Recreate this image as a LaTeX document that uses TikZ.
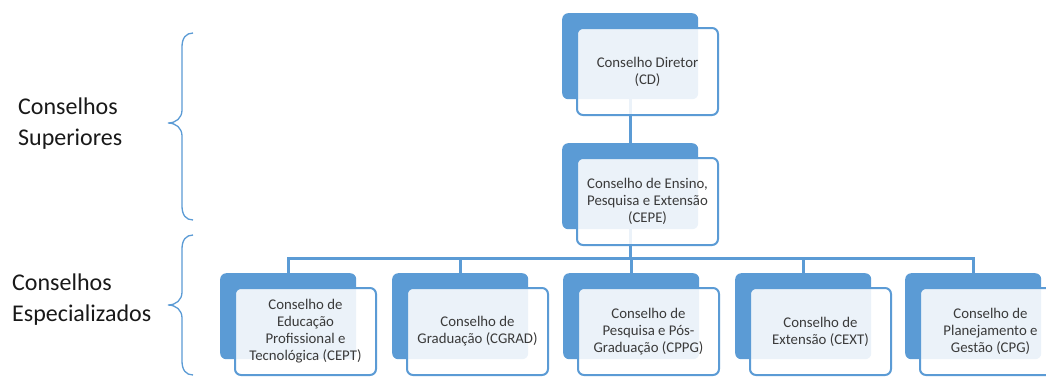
\documentclass[tikz,border=0pt]{standalone}
\usepackage{fontspec}
\setmainfont{Carlito}
\usetikzlibrary{backgrounds}
\definecolor{cblue}{HTML}{5B9BD5}
\definecolor{ctext}{HTML}{3A3A3A}
\tikzset{
  backbox/.style={rectangle, rounded corners=6pt, fill=cblue, minimum width=136pt, minimum height=86pt, inner sep=0pt, anchor=north west},
  frontbox/.style={rectangle, rounded corners=6pt, draw=cblue, line width=2pt, fill=white, fill opacity=0.88, text opacity=1, text=ctext, minimum width=141pt, minimum height=87pt, inner sep=2pt, anchor=north west, align=center, font=\fontsize{14.8}{17}\selectfont},
  conn/.style={draw=cblue, line width=3pt},
  bracestyle/.style={draw=cblue, line width=1.3pt},
  sidelabel/.style={anchor=west, align=left, inner sep=0pt, text=black!90, font=\fontsize{24}{31}\selectfont}
}
\newcommand{\council}[4]{%
  \node[backbox] (#1-b) at (#2,#3) {};
  \node[frontbox] (#1-f) at (#2+14,#3+14) {#4};
}
\begin{document}
\begin{tikzpicture}[x=1pt,y=-1pt]
\useasboundingbox (0,0) rectangle (1046,376);
\council{cd}{562}{13}{Conselho Diretor\\(CD)}
\council{cepe}{562}{143}{Conselho de Ensino,\\Pesquisa e Extensão\\(CEPE)}
\council{cept}{220}{273}{Conselho de\\Educação\\Profissional e\\Tecnológica (CEPT)}
\council{cgrad}{392}{273}{Conselho de\\Graduação (CGRAD)}
\council{cppg}{563}{273}{Conselho de\\Pesquisa e Pós-\\Graduação (CPPG)}
\council{cext}{735}{273}{Conselho de\\Extensão (CEXT)}
\council{cpg}{905}{273}{Conselho de\\Planejamento e\\Gestão (CPG)}
\coordinate (bar) at (0,258);
\begin{pgfonlayer}{background}
\fill[white] (0,0) rectangle (1046,376);
\draw[conn] (cd-b.center) -- (cepe-b.center);
\draw[conn] (cepe-b.center) -- (cepe-b.center |- bar);
\draw[conn] (cept-b.center) -- (cept-b.center |- bar) -- (cpg-b.center |- bar) -- (cpg-b.center);
\draw[conn] (cgrad-b.center) -- (cgrad-b.center |- bar);
\draw[conn] (cppg-b.center) -- (cppg-b.center |- bar);
\draw[conn] (cext-b.center) -- (cext-b.center |- bar);
\end{pgfonlayer}
\draw[bracestyle] (193,33) .. controls (186,33) and (182,38) .. (182,47) -- (182,110) .. controls (182,118) and (176,123) .. (168,123) .. controls (176,123) and (182,128) .. (182,136) -- (182,206) .. controls (182,215) and (186,220) .. (193,220);
\draw[bracestyle] (193,235) .. controls (186,235) and (182,240) .. (182,249) -- (182,292) .. controls (182,300) and (176,305) .. (168,305) .. controls (176,305) and (182,310) .. (182,318) -- (182,361) .. controls (182,370) and (186,375) .. (193,375);
\node[sidelabel] (labsup) at (18,124) {Conselhos\\Superiores};
\node[sidelabel] (labesp) at (12,300) {Conselhos\\Especializados};
\end{tikzpicture}
\end{document}
